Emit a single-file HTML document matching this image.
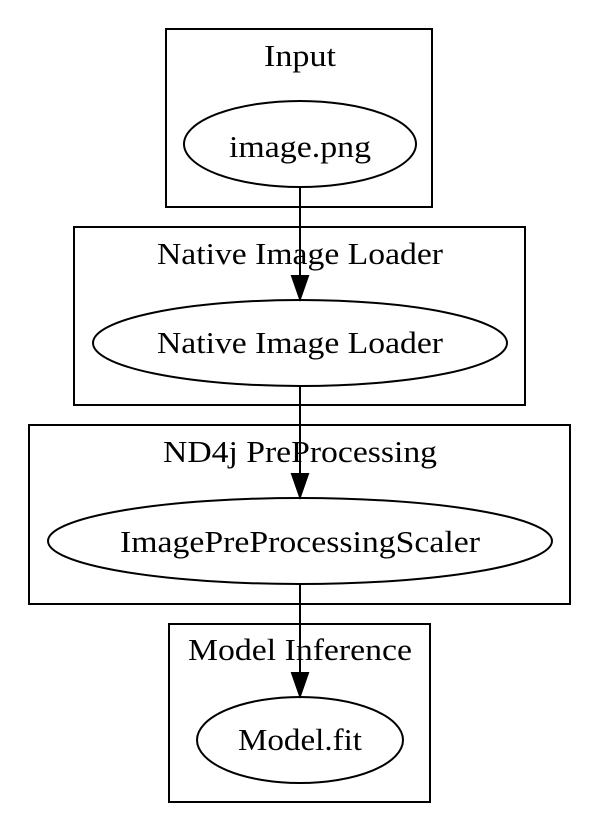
<!DOCTYPE html>
<html><head><meta charset="utf-8"><style>html,body{margin:0;padding:0;background:#fff}</style></head>
<body>
<svg width="600" height="832" viewBox="0 0 600 832" xmlns="http://www.w3.org/2000/svg" font-family="'Liberation Serif', serif" font-size="31" text-anchor="middle">
<g fill="none" stroke="#000" stroke-width="2">
<rect x="166" y="29" width="266" height="178"/>
<rect x="74" y="227" width="451" height="178"/>
<rect x="29" y="425" width="541" height="179"/>
<rect x="169" y="624" width="261" height="178"/>
<ellipse cx="300" cy="144" rx="116" ry="43"/>
<ellipse cx="300" cy="343" rx="207" ry="43"/>
<ellipse cx="300" cy="541" rx="252" ry="43"/>
<ellipse cx="300" cy="740" rx="103" ry="43"/>
<line x1="300" y1="187" x2="300" y2="280"/>
<line x1="300" y1="386" x2="300" y2="478"/>
<line x1="300" y1="584" x2="300" y2="677"/>
</g>
<g fill="#000" stroke="#000" stroke-width="2">
<polygon points="292,276 308,276 300,299"/>
<polygon points="292,474 308,474 300,497"/>
<polygon points="292,673 308,673 300,696"/>
</g>
<g fill="#000">
<text x="300" y="66" textLength="72" lengthAdjust="spacingAndGlyphs">Input</text>
<text x="300" y="157" textLength="142" lengthAdjust="spacingAndGlyphs">image.png</text>
<text x="300" y="264" textLength="286" lengthAdjust="spacingAndGlyphs">Native Image Loader</text>
<text x="300" y="353" textLength="286" lengthAdjust="spacingAndGlyphs">Native Image Loader</text>
<text x="300" y="462" textLength="274" lengthAdjust="spacingAndGlyphs">ND4j PreProcessing</text>
<text x="300" y="552" textLength="360" lengthAdjust="spacingAndGlyphs">ImagePreProcessingScaler</text>
<text x="300" y="660" textLength="224" lengthAdjust="spacingAndGlyphs">Model Inference</text>
<text x="300" y="750" textLength="124" lengthAdjust="spacingAndGlyphs">Model.fit</text>
</g>
</svg>
</body></html>
